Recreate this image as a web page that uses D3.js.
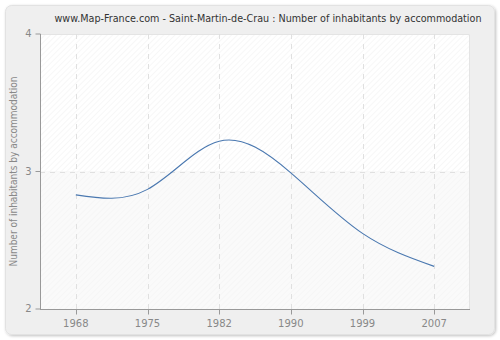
<!DOCTYPE html>
<html>
<head>
<meta charset="utf-8">
<script src="https://cdn.jsdelivr.net/npm/d3@7"></script>
<style>
  html, body { margin: 0; padding: 0; background: #ffffff; }
  svg { display: block; }
</style>
</head>
<body>
<svg id="chart" width="500" height="340"></svg>
<script>
// Census years and average number of inhabitants per accommodation
const years = ["1968", "1975", "1982", "1990", "1999", "2007"];
const inhabitants = [2.83, 2.87, 3.22, 2.99, 2.55, 2.31];
const yTicks = [2, 3, 4];

const titleText = "www.Map-France.com - Saint-Martin-de-Crau : Number of inhabitants by accommodation";
const yLabel = "Number of inhabitants by accommodation";

const svg = d3.select("#chart");
const W = 500, H = 340;
const plot = { left: 40, right: 470, top: 34, bottom: 309 };

const font = "'DejaVu Sans', Verdana, sans-serif";

// Hatch patterns for the plot background
const defs = svg.append("defs");
function hatch(id, bg, line) {
  const p = defs.append("pattern")
    .attr("id", id)
    .attr("patternUnits", "userSpaceOnUse")
    .attr("width", 4).attr("height", 4)
    .attr("patternTransform", "rotate(45)");
  p.append("rect").attr("width", 4).attr("height", 4).attr("fill", bg);
  p.append("line").attr("x1", 0).attr("y1", 0).attr("x2", 0).attr("y2", 4)
    .attr("stroke", line).attr("stroke-width", 1);
}
hatch("hatchUpper", "#ffffff", "#f0f0f0");
hatch("hatchLower", "#fafafa", "#f2f2f2");

const shadow = defs.append("filter").attr("id", "shadow")
  .attr("x", "-5%").attr("y", "-5%").attr("width", "110%").attr("height", "110%");
shadow.append("feGaussianBlur").attr("in", "SourceAlpha").attr("stdDeviation", 1.5);
shadow.append("feOffset").attr("dx", 1).attr("dy", 1).attr("result", "b");
shadow.append("feComponentTransfer").append("feFuncA").attr("type", "linear").attr("slope", 0.25);
const merge = shadow.append("feMerge");
merge.append("feMergeNode");
merge.append("feMergeNode").attr("in", "SourceGraphic");

// Outer panel
svg.append("rect")
  .attr("x", 5.5).attr("y", 5.5).attr("width", 489).attr("height", 329)
  .attr("rx", 6).attr("ry", 6)
  .attr("fill", "#efefef").attr("stroke", "#e2e2e2").attr("stroke-width", 1)
  .attr("filter", "url(#shadow)");

// Scales
const x = d3.scalePoint().domain(years).range([plot.left, plot.right]).padding(0.5);
const y = d3.scaleLinear().domain([2, 4]).range([plot.bottom, plot.top]);

// Plot background bands
svg.append("rect")
  .attr("x", plot.left).attr("y", y(4))
  .attr("width", plot.right - plot.left).attr("height", y(3) - y(4))
  .attr("fill", "url(#hatchUpper)");
svg.append("rect")
  .attr("x", plot.left).attr("y", y(3))
  .attr("width", plot.right - plot.left).attr("height", y(2) - y(3))
  .attr("fill", "url(#hatchLower)");
// right and top border of plot
svg.append("path")
  .attr("d", `M${plot.left},${plot.top + 0.5}H${plot.right - 0.5}V${plot.bottom}`)
  .attr("fill", "none").attr("stroke", "#e4e4e4");

// Grid lines
const grid = svg.append("g").attr("stroke", "#e0e0e0").attr("stroke-dasharray", "5,5");
grid.selectAll("line.v").data(years).join("line")
  .attr("class", "v")
  .attr("x1", d => Math.round(x(d)) + 0.5).attr("x2", d => Math.round(x(d)) + 0.5)
  .attr("y1", plot.top).attr("y2", plot.bottom);
grid.selectAll("line.h").data(yTicks.filter(t => t > 2 && t < 4)).join("line")
  .attr("class", "h")
  .attr("y1", d => Math.round(y(d)) + 0.5).attr("y2", d => Math.round(y(d)) + 0.5)
  .attr("x1", plot.left).attr("x2", plot.right);

// Axes
const xAxis = svg.append("g")
  .attr("transform", `translate(0,${plot.bottom + 0.5})`)
  .call(d3.axisBottom(x).tickSize(5).tickSizeOuter(0).offset(0));
const yAxis = svg.append("g")
  .attr("transform", `translate(${plot.left + 0.5},0)`)
  .call(d3.axisLeft(y).tickValues(yTicks).tickFormat(d3.format("d")).tickSize(5).tickSizeOuter(0).offset(0));

[xAxis, yAxis].forEach(a => {
  a.select(".domain").attr("stroke", "#999999");
  a.selectAll(".tick line").attr("stroke", "#999999");
  a.selectAll(".tick text")
    .attr("fill", "#888888")
    .style("font-family", font)
    .style("font-size", "10px");
});
xAxis.selectAll(".tick line").attr("transform", d => `translate(${Math.round(x(d)) + 0.5 - x(d)},0)`);
xAxis.selectAll(".tick text").attr("dy", "1.05em").attr("y", 7);
yAxis.selectAll(".tick text").attr("x", -9);
xAxis.select(".domain").attr("d", `M${plot.left},0H${plot.right}`);

// Data line
const line = d3.line()
  .x((d, i) => x(years[i]))
  .y(d => y(d))
  .curve(d3.curveNatural);
svg.append("path")
  .datum(inhabitants)
  .attr("d", line)
  .attr("fill", "none")
  .attr("stroke", "#4a78b0")
  .attr("stroke-width", 1.1);

// Title
svg.append("text")
  .attr("x", 268).attr("y", 22)
  .attr("text-anchor", "middle")
  .attr("fill", "#333333")
  .style("font-family", font)
  .style("font-size", "10px")
  .attr("textLength", 427)
  .attr("lengthAdjust", "spacingAndGlyphs")
  .text(titleText);

// Y axis label
svg.append("text")
  .attr("transform", `translate(17,${(plot.top + plot.bottom) / 2}) rotate(-90)`)
  .attr("text-anchor", "middle")
  .attr("fill", "#888888")
  .style("font-family", font)
  .style("font-size", "10px")
  .attr("textLength", 190)
  .attr("lengthAdjust", "spacingAndGlyphs")
  .text(yLabel);
</script>
</body>
</html>
